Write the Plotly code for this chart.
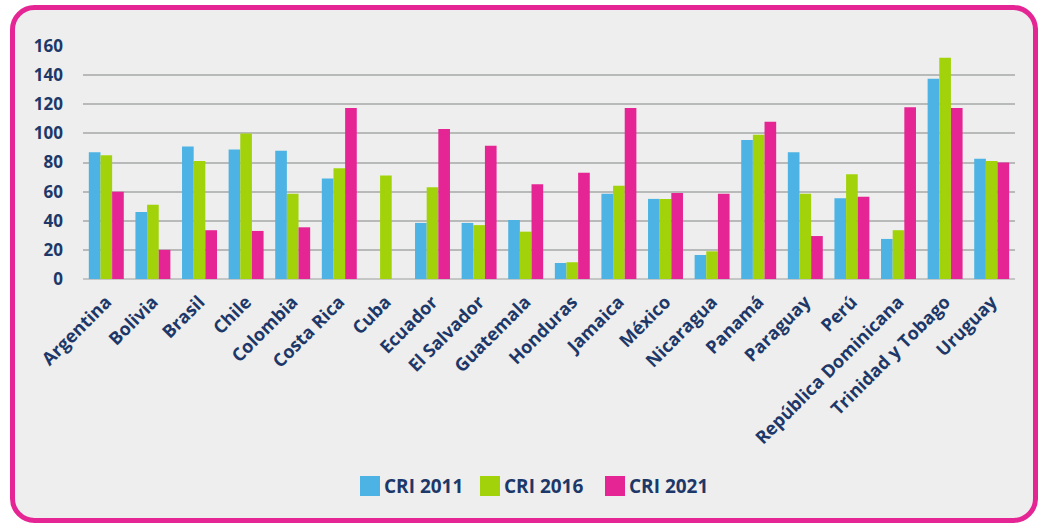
import plotly.graph_objects as go

countries = ["Argentina", "Bolivia", "Brasil", "Chile", "Colombia", "Costa Rica", "Cuba",
             "Ecuador", "El Salvador", "Guatemala", "Honduras", "Jamaica", "México",
             "Nicaragua", "Panamá", "Paraguay", "Perú", "República Dominicana",
             "Trinidad y Tobago", "Uruguay"]
cri_2011 = [87, 46, 91, 89, 88, 69, None, 38.5, 38.5, 40.5, 11, 58.5, 55, 16.5, 95.5, 87, 55.5, 27.5, 137.5, 82.5]
cri_2016 = [85, 51, 81, 100, 58.5, 76, 71, 63, 37, 32.5, 11.5, 64, 55, 19, 99, 58.5, 72, 33.5, 152, 81]
cri_2021 = [60, 20, 33.5, 33, 35.5, 117.5, None, 103, 91.5, 65, 73, 117.5, 59, 58.5, 108, 29.5, 56.5, 118, 117.5, 80]
series_names = ["CRI 2011", "CRI 2016", "CRI 2021"]
series_colors = ["#4cb3e4", "#a2d30a", "#e52594"]
y_ticks = [0, 20, 40, 60, 80, 100, 120, 140, 160]

W, H = 1038, 523
L, R, T, B = 83, 1015, 46, 279
NAVY = "#1d3868"
FONT = "Open Sans"

fig = go.Figure()
for name, vals, col in zip(series_names, [cri_2011, cri_2016, cri_2021], series_colors):
    fig.add_trace(go.Bar(x=countries, y=vals, name=name, showlegend=False,
                         marker=dict(color=col, line=dict(width=0))))

def px2paper(x, y):
    return (x - L) / (R - L), (B - y) / (B - T)

def P(x, y):
    px, py = px2paper(x, y)
    return f"{px:.5f},{py:.5f}"

# rounded frame (pixel coords)
x0, y0, x1, y1, r = 12.5, 7.5, 1035.5, 520.5, 22
k = 0.5523 * r
path = (f"M {P(x0 + r, y0)} L {P(x1 - r, y0)} "
        f"C {P(x1 - r + k, y0)} {P(x1, y0 + r - k)} {P(x1, y0 + r)} "
        f"L {P(x1, y1 - r)} "
        f"C {P(x1, y1 - r + k)} {P(x1 - r + k, y1)} {P(x1 - r, y1)} "
        f"L {P(x0 + r, y1)} "
        f"C {P(x0 + r - k, y1)} {P(x0, y1 - r + k)} {P(x0, y1 - r)} "
        f"L {P(x0, y0 + r)} "
        f"C {P(x0, y0 + r - k)} {P(x0 + r - k, y0)} {P(x0 + r, y0)} Z")
fig.add_shape(type="path", path=path, xref="paper", yref="paper",
              fillcolor="#edeeed", line=dict(color="#e52594", width=5), layer="below")

# manual legend (pixel coords)
legend_sq_x = [360, 480, 605]
for name, col, sx in zip(series_names, series_colors, legend_sq_x):
    ax0, ay0 = px2paper(sx, 476)
    ax1, ay1 = px2paper(sx + 20, 496)
    fig.add_shape(type="rect", xref="paper", yref="paper", x0=ax0, y0=ay1, x1=ax1, y1=ay0,
                  fillcolor=col, line=dict(width=0), layer="above")
    tx, ty = px2paper(sx + 22, 486)
    fig.add_annotation(text=name, xref="paper", yref="paper", x=tx, y=ty,
                       xanchor="left", yanchor="middle", showarrow=False,
                       font=dict(family=FONT, size=19, color=NAVY, weight="bold"))

fig.update_layout(
    width=W, height=H,
    margin=dict(l=L, r=W - R, t=T, b=H - B, pad=0),
    paper_bgcolor="white", plot_bgcolor="rgba(0,0,0,0)",
    barmode="group", bargap=0.25, bargroupgap=0,
    font=dict(family=FONT, color=NAVY),
    showlegend=False,
    xaxis=dict(tickangle=-45, tickfont=dict(family=FONT, size=18, color=NAVY, weight="bold"),
               showgrid=False, showline=False, ticks="", ticklabelstandoff=8, fixedrange=True),
    yaxis=dict(range=[0, 160], tickvals=y_ticks, showgrid=True, gridcolor="#b8b9b9", gridwidth=2,
               zeroline=True, zerolinecolor="#c4c5c5", zerolinewidth=2,
               tickfont=dict(family=FONT, size=17, color=NAVY, weight="bold"),
               ticklabelstandoff=19, showline=False, ticks="", fixedrange=True),
)
fig.write_html("out.html", config={"displayModeBar": False},
               post_script="document.body.style.margin='0';document.body.style.overflow='hidden';")
